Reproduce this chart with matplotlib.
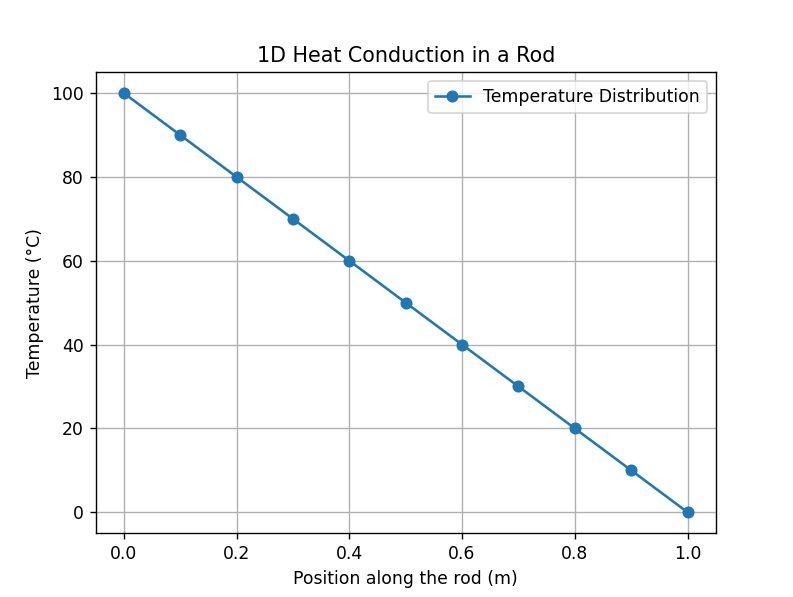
import matplotlib
matplotlib.use("Agg")
import matplotlib.pyplot as plt

positions = [0.0, 0.1, 0.2, 0.3, 0.4, 0.5, 0.6, 0.7, 0.8, 0.9, 1.0]
temperatures = [100, 90, 80, 70, 60, 50, 40, 30, 20, 10, 0]

DPI = 124
fig, ax = plt.subplots(figsize=(793 / DPI, 597 / DPI), dpi=DPI)
fig.subplots_adjust(left=0.1207, right=0.9025, top=0.879, bottom=0.107)
ax.plot(positions, temperatures, marker='o', label='Temperature Distribution')
ax.set_title('1D Heat Conduction in a Rod')
ax.set_xlabel('Position along the rod (m)')
ax.set_ylabel('Temperature (°C)')
ax.grid(True)
ax.legend()
fig.savefig('out.png', dpi=DPI)
